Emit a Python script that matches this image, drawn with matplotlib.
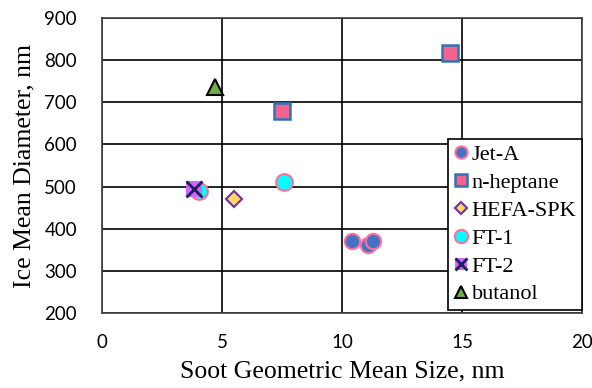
import matplotlib
matplotlib.use("Agg")
import matplotlib.pyplot as plt
from matplotlib.lines import Line2D
from matplotlib.legend_handler import HandlerTuple

# data
jet_a_x = [10.4, 11.1, 11.3]
jet_a_y = [370, 362, 370]
heptane_x = [7.5, 14.5]
heptane_y = [680, 818]
hefa_x = [5.5]
hefa_y = [470]
ft1_x = [4.05, 7.6]
ft1_y = [490, 510]
ft2_x = [3.85]
ft2_y = [495]
butanol_x = [4.7]
butanol_y = [737]
labels = ['Jet-A', 'n-heptane', 'HEFA-SPK', 'FT-1', 'FT-2', 'butanol']

# marker styles: (marker, size, face, edge, edge width)
styles = [
    ('o', 11, '#4472C4', '#FF6F9C', 1.5),
    ('s', 11.5, '#F5638E', '#2E75B6', 1.8),
    ('D', 8, '#FFD966', '#7030A0', 1.5),
    ('o', 12, '#00FFFF', '#FF6F9C', 1.5),
    ('s', 11, '#CC66FF', 'none', 0),
    ('^', 11, '#70AD47', 'black', 1.5),
]
xs = [jet_a_x, heptane_x, hefa_x, ft1_x, ft2_x, butanol_x]
ys = [jet_a_y, heptane_y, hefa_y, ft1_y, ft2_y, butanol_y]

fig = plt.figure(figsize=(5.92, 3.88), dpi=100)
ax = fig.add_axes([0.1723, 0.1933, 0.8107, 0.7603])

handles = []
for (m, ms, fc, ec, ew), x, y in zip(styles, xs, ys):
    ax.plot(x, y, m, ms=ms, mfc=fc, mec=ec, mew=ew, ls='none')
    handles.append(Line2D([], [], marker=m, ms=ms * 0.8, mfc=fc, mec=ec, mew=ew, ls='none'))
# X drawn over the purple square for FT-2
ax.plot(ft2_x, ft2_y, 'x', ms=11, mec='#1F1F5F', mew=2, ls='none')
handles[4] = (handles[4], Line2D([], [], marker='x', ms=8.8, mec='#1F1F5F', mew=2, ls='none'))

ax.set_xlim(0, 20)
ax.set_ylim(200, 900)
ax.set_xticks([0, 5, 10, 15, 20])
ax.set_yticks(range(200, 901, 100))
ax.grid(True, color='black', lw=1.2)
ax.set_axisbelow(True)
for s in ax.spines.values():
    s.set_color('#404040')
    s.set_linewidth(1.2)
ax.tick_params(length=0, labelsize=13.5)
ax.tick_params(axis='x', pad=15)
ax.tick_params(axis='y', pad=18)
for lab in ax.get_xticklabels() + ax.get_yticklabels():
    lab.set_family('Lato')

ax.set_xlabel('Soot Geometric Mean Size, nm', family='Liberation Serif', fontsize=18.5, labelpad=7)
ax.set_ylabel('Ice Mean Diameter, nm', family='Liberation Serif', fontsize=18.5, labelpad=6)

leg = ax.legend(handles, labels,
                handler_map={tuple: HandlerTuple(ndivide=1, pad=0)},
                loc='lower right', bbox_to_anchor=(1.0, 0.01),
                prop={'family': 'Liberation Serif', 'size': 16},
                frameon=True, fancybox=False, edgecolor='black', framealpha=1,
                handlelength=0.6, handletextpad=0.2, labelspacing=0.33,
                borderpad=0.25, borderaxespad=0.0)
leg.get_frame().set_linewidth(1.2)

fig.savefig('out.png', dpi=100)
